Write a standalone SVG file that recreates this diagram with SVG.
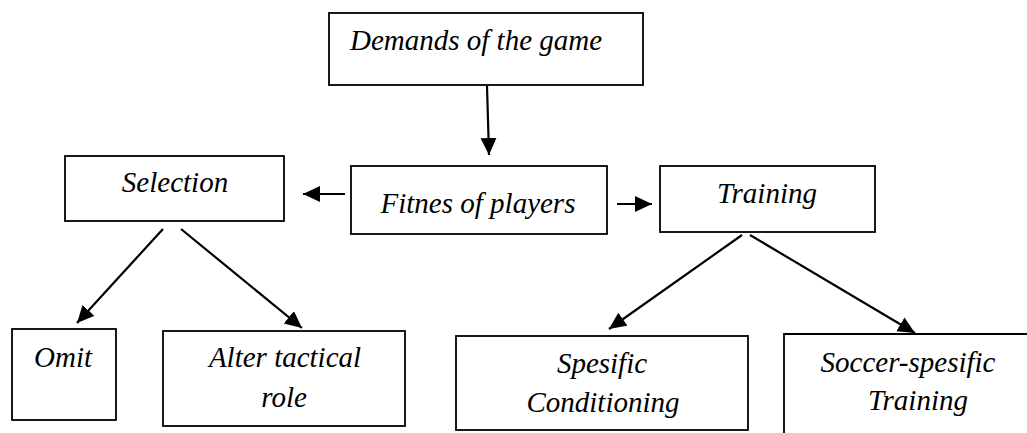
<svg xmlns="http://www.w3.org/2000/svg" width="1027" height="433" viewBox="0 0 1027 433">
<style>
.box{fill:#fff;stroke:#000;stroke-width:1.8}
.c{stroke:#000;stroke-width:2.2;fill:none;marker-end:url(#ah)}
</style>
<defs>
<marker id="ah" markerUnits="userSpaceOnUse" markerWidth="20" markerHeight="18" refX="17" refY="8" orient="auto">
<path d="M0,0 L17,8 L0,16 Z" fill="#000"/>
</marker>
</defs>
<rect width="1027" height="433" fill="#fff"/>
<g id="connectors">
<line class="c" x1="487" y1="86" x2="489" y2="155"/>
<line class="c" x1="345" y1="194" x2="303" y2="194"/>
<line class="c" x1="617" y1="204" x2="652" y2="204"/>
<line class="c" x1="163" y1="229" x2="77" y2="323"/>
<line class="c" x1="181" y1="229" x2="302" y2="328"/>
<line class="c" x1="742" y1="235" x2="609" y2="329"/>
<line class="c" x1="750" y1="235" x2="915" y2="333"/>
</g>
<g font-family="Liberation Serif, serif" font-style="italic" font-size="29" fill="#000">
<g id="demands">
<rect class="box" x="329" y="13" width="314" height="72"/>
<text x="350" y="50">Demands of the game</text>
</g>
<g id="selection" text-anchor="middle">
<rect class="box" x="65" y="156" width="219" height="65"/>
<text x="175" y="192">Selection</text>
</g>
<g id="fitnes" text-anchor="middle">
<rect class="box" x="351" y="166" width="256" height="68"/>
<text x="478" y="213">Fitnes of players</text>
</g>
<g id="training" text-anchor="middle">
<rect class="box" x="660" y="166" width="215" height="66"/>
<text x="767" y="203">Training</text>
</g>
<g id="omit" text-anchor="middle">
<rect class="box" x="12" y="329" width="104" height="91"/>
<text x="63" y="367">Omit</text>
</g>
<g id="alter" text-anchor="middle">
<rect class="box" x="163" y="331" width="242" height="95"/>
<text x="285" y="367">Alter tactical</text>
<text x="284" y="407">role</text>
</g>
<g id="spesific" text-anchor="middle">
<rect class="box" x="456" y="336" width="292" height="94"/>
<text x="602" y="373">Spesific</text>
<text x="603" y="412">Conditioning</text>
</g>
<g id="soccer" text-anchor="middle">
<path class="box" d="M1030,334 H784 V436"/>
<text x="908" y="372">Soccer-spesific</text>
<text x="918" y="410">Training</text>
</g>
</g>
</svg>
